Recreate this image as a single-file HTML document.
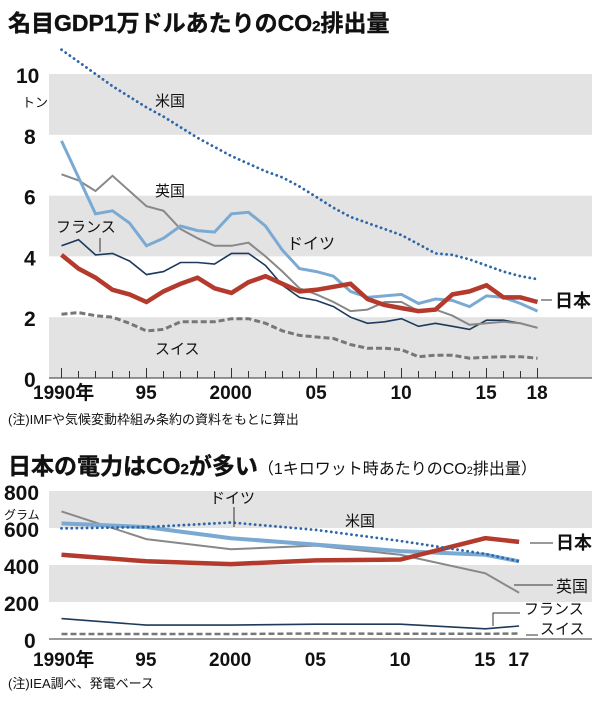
<!DOCTYPE html>
<html><head><meta charset="utf-8">
<style>
html,body{margin:0;padding:0;background:#fff;}
svg text{font-family:"Liberation Sans","Noto Sans CJK JP",sans-serif;fill:#111;}
</style></head>
<body>
<svg id="s" width="600" height="702" viewBox="0 0 600 702" xmlns="http://www.w3.org/2000/svg">
<text x="8" y="31" font-size="23" font-weight="bold" stroke="#111" stroke-width="0.4">名目GDP1万ドルあたりのCO<tspan font-size="15">2</tspan>排出量</text>
<g id="c1"></g>
<text x="8" y="424" font-size="13" fill="#222">(注)IMFや気候変動枠組み条約の資料をもとに算出</text>
<text x="8" y="474" font-size="23" font-weight="bold" stroke="#111" stroke-width="0.4">日本の電力はCO<tspan font-size="15">2</tspan>が多い<tspan font-size="16" font-weight="normal" stroke-width="0">（1キロワット時あたりのCO</tspan><tspan font-size="11" font-weight="normal" stroke-width="0">2</tspan><tspan font-size="16" font-weight="normal" stroke-width="0">排出量）</tspan></text>
<g id="c2"></g>
<text x="8" y="688" font-size="13" fill="#222">(注)IEA調べ、発電ベース</text>
</svg>
<script>
const NS="http://www.w3.org/2000/svg";
function el(p,t,a,txt){const e=document.createElementNS(NS,t);for(const k in a)e.setAttribute(k,a[k]);if(txt!==undefined)e.textContent=txt;p.appendChild(e);return e;}
// chart1
(function(){
const g=document.getElementById('c1');
const X=y=>61.5+(y-1990)*17.0, Y=v=>378-v*30.4;
[[8,10],[4,6],[0,2]].forEach(b=>el(g,'rect',{x:49,y:Y(b[1]),width:543,height:Y(b[0])-Y(b[1]),fill:'#e3e3e3'}));
el(g,'line',{x1:49,x2:592,y1:378,y2:378,stroke:'#333','stroke-width':1});
for(let y=1990;y<=2018;y++){const big=(y%5==0)||y==2018;el(g,'line',{x1:X(y),x2:X(y),y1:378,y2:big?368:371,stroke:'#333','stroke-width':1});}
[0,2,4,6,8,10].forEach(v=>el(g,'text',{x:v==10?16:24,y:Y(v)+9,'font-size':21,'font-weight':'bold'},v));
[[1990,'1990年',33],[1995,'95',X(1995)-11],[2000,'2000',X(2000)-22],[2005,'05',X(2005)-11],[2010,'10',X(2010)-11],[2015,'15',X(2015)-11],[2018,'18',X(2018)-11]].forEach(a=>el(g,'text',{x:a[2],y:399,'font-size':19,'font-weight':'bold'},a[1]));
const d={
sw:[2.1,2.15,2.05,2.0,1.8,1.55,1.6,1.85,1.85,1.85,1.95,1.95,1.8,1.55,1.4,1.35,1.3,1.1,0.98,0.98,0.93,0.7,0.75,0.75,0.65,0.68,0.7,0.7,0.65],
fr:[4.35,4.55,4.05,4.1,3.85,3.4,3.5,3.8,3.8,3.75,4.1,4.1,3.7,3.05,2.65,2.55,2.35,2.0,1.8,1.85,1.95,1.7,1.8,1.7,1.6,1.9,1.9,1.8,1.65],
uk:[6.7,6.5,6.15,6.65,6.15,5.65,5.5,4.9,4.6,4.35,4.35,4.45,4.0,3.5,2.95,2.75,2.5,2.2,2.25,2.5,2.5,2.2,2.25,2.05,1.75,1.8,1.85,1.8,1.65],
de:[7.8,6.6,5.4,5.5,5.1,4.35,4.6,5.0,4.85,4.8,5.4,5.45,5.0,4.2,3.6,3.5,3.35,2.85,2.65,2.7,2.75,2.45,2.6,2.55,2.35,2.7,2.65,2.45,2.2],
jp:[4.05,3.6,3.3,2.9,2.75,2.5,2.85,3.1,3.3,2.95,2.8,3.15,3.35,3.1,2.85,2.9,3.0,3.1,2.6,2.4,2.3,2.2,2.25,2.75,2.85,3.05,2.65,2.65,2.5],
us:[10.8,10.4,10.0,9.6,9.25,8.9,8.6,8.25,7.9,7.6,7.3,7.05,6.8,6.6,6.3,5.95,5.6,5.3,5.1,4.9,4.7,4.4,4.1,4.05,3.9,3.7,3.5,3.35,3.25]};
const pts=a=>a.map((v,i)=>X(1990+i).toFixed(1)+','+Y(v).toFixed(1)).join(' ');
el(g,'polyline',{points:pts(d.sw),fill:'none',stroke:'#777','stroke-width':3,'stroke-dasharray':'6,3'});
el(g,'polyline',{points:pts(d.fr),fill:'none',stroke:'#1d3a5c','stroke-width':1.6});
el(g,'polyline',{points:pts(d.uk),fill:'none',stroke:'#888','stroke-width':2});
el(g,'polyline',{points:pts(d.de),fill:'none',stroke:'#7aaad3','stroke-width':3});
el(g,'polyline',{points:pts(d.jp),fill:'none',stroke:'#b33a2c','stroke-width':4.5});
el(g,'polyline',{points:pts(d.us),fill:'none',stroke:'#2e66a8','stroke-width':2.8,'stroke-dasharray':'0.1,5','stroke-linecap':'round'});
el(g,'text',{x:22,y:107,'font-size':13},'トン');
el(g,'text',{x:155,y:106,'font-size':15},'米国');
el(g,'text',{x:155,y:196,'font-size':15},'英国');
el(g,'text',{x:56,y:232,'font-size':15},'フランス');
el(g,'line',{x1:100,x2:100,y1:238,y2:252,stroke:'#333'});
el(g,'text',{x:287,y:249,'font-size':16},'ドイツ');
el(g,'line',{x1:541,x2:552,y1:300,y2:300,stroke:'#333'});
el(g,'text',{x:555,y:307,'font-size':18,'font-weight':'bold'},'日本');
el(g,'text',{x:155,y:354,'font-size':15},'スイス');
})();
// chart2
(function(){
const g=document.getElementById('c2');
const X=y=>61.5+(y-1990)*16.95, Y=v=>639-v*0.185;
[[600,800],[200,400]].forEach(b=>el(g,'rect',{x:49,y:Y(b[1]),width:543,height:Y(b[0])-Y(b[1]),fill:'#e3e3e3'}));
el(g,'line',{x1:49,x2:592,y1:639,y2:639,stroke:'#333','stroke-width':1});
[0,200,400,600,800].forEach(v=>el(g,'text',{x:v==0?24:4,y:Y(v)+9,'font-size':21,'font-weight':'bold'},v));
[[1990,'1990年',33],[1995,'95',X(1995)-11],[2000,'2000',X(2000)-22],[2005,'05',X(2005)-11],[2010,'10',X(2010)-11],[2015,'15',X(2015)-11],[2017,'17',X(2017)-11]].forEach(a=>el(g,'text',{x:a[2],y:666,'font-size':19,'font-weight':'bold'},a[1]));
const yrs=[1990,1995,2000,2005,2010,2015,2017];
const pts=a=>a.map((v,i)=>X(yrs[i]).toFixed(1)+','+Y(v).toFixed(1)).join(' ');
el(g,'polyline',{points:pts([27,27,27,30,28,28,30]),fill:'none',stroke:'#777','stroke-width':2.5,'stroke-dasharray':'6,3'});
el(g,'polyline',{points:pts([110,75,75,80,80,55,70]),fill:'none',stroke:'#1d3a5c','stroke-width':1.6});
el(g,'polyline',{points:pts([690,540,485,505,455,355,250]),fill:'none',stroke:'#888','stroke-width':2});
el(g,'polyline',{points:pts([625,605,545,510,475,455,420]),fill:'none',stroke:'#7aaad3','stroke-width':4});
el(g,'polyline',{points:pts([455,420,405,425,430,545,525]),fill:'none',stroke:'#b33a2c','stroke-width':4.5});
el(g,'polyline',{points:pts([598,605,630,590,530,460,420]),fill:'none',stroke:'#2e66a8','stroke-width':2.8,'stroke-dasharray':'0.1,5','stroke-linecap':'round'});
el(g,'text',{x:210,y:503,'font-size':15},'ドイツ');
el(g,'line',{x1:234,x2:234,y1:507,y2:527,stroke:'#333'});
el(g,'text',{x:4,y:519,'font-size':12},'グラム');
el(g,'text',{x:345,y:526,'font-size':15},'米国');
el(g,'line',{x1:530,x2:553,y1:543,y2:543,stroke:'#333'});
el(g,'text',{x:556,y:549,'font-size':18,'font-weight':'bold'},'日本');
el(g,'line',{x1:514,x2:553,y1:585,y2:585,stroke:'#333'});
el(g,'text',{x:556,y:592,'font-size':16},'英国');
el(g,'polyline',{points:'493,626 493,613 520,613',fill:'none',stroke:'#333'});
el(g,'text',{x:524,y:614,'font-size':15},'フランス');
el(g,'line',{x1:526,x2:538,y1:635,y2:635,stroke:'#333'});
el(g,'text',{x:540,y:634,'font-size':15},'スイス');
})();
</script>
</body></html>
